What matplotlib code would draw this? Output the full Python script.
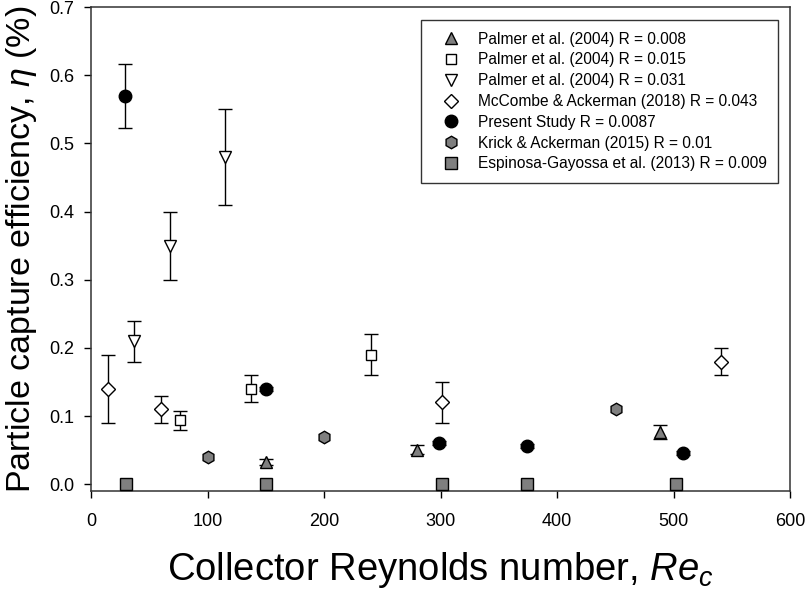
import matplotlib
matplotlib.use("Agg")
import matplotlib.pyplot as plt
from matplotlib.lines import Line2D

plt.rcParams['font.family'] = ['Liberation Sans', 'DejaVu Sans']
plt.rcParams['mathtext.fontset'] = 'custom'
plt.rcParams['mathtext.it'] = 'Liberation Sans:italic'
plt.rcParams['mathtext.rm'] = 'Liberation Sans'

# Palmer et al. (2004) R = 0.008
p008_x = [150, 280, 488]
p008_y = [0.033, 0.051, 0.077]
p008_e = [0.004, 0.007, 0.010]
# Palmer et al. (2004) R = 0.015
p015_x = [76, 137, 240]
p015_y = [0.094, 0.14, 0.19]
p015_e = [0.014, 0.02, 0.03]
# Palmer et al. (2004) R = 0.031
p031_x = [37, 68, 115]
p031_y = [0.21, 0.35, 0.48]
p031_e = [0.03, 0.05, 0.07]
# McCombe & Ackerman (2018) R = 0.043
mc_x = [15, 60, 301, 541]
mc_y = [0.14, 0.11, 0.12, 0.18]
mc_e = [0.05, 0.02, 0.03, 0.02]
# Present Study R = 0.0087
ps_x = [29, 150, 299, 374, 508]
ps_y = [0.57, 0.14, 0.06, 0.056, 0.046]
ps_e = [0.047, 0.003, 0.003, 0.003, 0.003]
# Krick & Ackerman (2015) R = 0.01
ka_x = [100, 200, 451]
ka_y = [0.04, 0.07, 0.11]
# Espinosa-Gayossa et al. (2013) R = 0.009
eg_x = [30, 150, 301, 374, 502]
eg_y = [0.0, 0.0, 0.0, 0.0, 0.0]

labels = ["Palmer et al. (2004) R = 0.008",
          "Palmer et al. (2004) R = 0.015",
          "Palmer et al. (2004) R = 0.031",
          "McCombe & Ackerman (2018) R = 0.043",
          "Present Study R = 0.0087",
          "Krick & Ackerman (2015) R = 0.01",
          "Espinosa-Gayossa et al. (2013) R = 0.009"]
xticks = [0, 100, 200, 300, 400, 500, 600]
yticks = [0.0, 0.1, 0.2, 0.3, 0.4, 0.5, 0.6, 0.7]

gray = '#7f7f7f'
fig = plt.figure(figsize=(8.09, 5.90), dpi=100)
ax = fig.add_axes([91 / 809, 1 - 491 / 590, 699 / 809, 484 / 590])

ekw = dict(ecolor='black', elinewidth=1.0, capsize=5, capthick=1.0, linestyle='none',
           markeredgecolor='black', markeredgewidth=1.0, zorder=3)

ax.errorbar(p008_x, p008_y, yerr=p008_e, marker='^', ms=9, markerfacecolor=gray, **ekw)
ax.errorbar(p015_x, p015_y, yerr=p015_e, marker='s', ms=7.5, markerfacecolor='white', **ekw)
ax.errorbar(p031_x, p031_y, yerr=p031_e, marker='v', ms=9, markerfacecolor='white', **ekw)
ax.errorbar(mc_x, mc_y, yerr=mc_e, marker='D', ms=7, markerfacecolor='white', **ekw)
ax.errorbar(ps_x, ps_y, yerr=ps_e, marker='o', ms=9, markerfacecolor='black', **ekw)
ax.plot(ka_x, ka_y, linestyle='none', marker='h', ms=9, markerfacecolor=gray,
        markeredgecolor='black', markeredgewidth=1.0, zorder=3)
ax.plot(eg_x, eg_y, linestyle='none', marker='s', ms=8, markerfacecolor=gray,
        markeredgecolor='black', markeredgewidth=1.0, zorder=3)

ax.set_xlim(0, 600)
ax.set_ylim(-0.0098, 0.7)
ax.set_xticks(xticks)
ax.set_xticklabels([str(t) for t in xticks])
ax.set_yticks(yticks)
ax.set_yticklabels([f"{t:.1f}" for t in yticks])
ax.tick_params(direction='out', length=5, width=1.0, labelsize=13, top=False, right=False)
ax.tick_params(axis='x', pad=11)
ax.tick_params(axis='y', pad=7)
for s in ax.spines.values():
    s.set_linewidth(1.1)
    s.set_color('#333333')

ax.set_xlabel(r"Collector Reynolds number, $Re_c$", fontsize=27.5, labelpad=14)
ax.set_ylabel(r"Particle capture efficiency, $\eta$ (%)", fontsize=24.5)
ax.yaxis.set_label_coords(-0.075, 0.5)

handles = [
    Line2D([], [], ls='none', marker='^', ms=9, mfc=gray, mec='black'),
    Line2D([], [], ls='none', marker='s', ms=7.5, mfc='white', mec='black'),
    Line2D([], [], ls='none', marker='v', ms=9, mfc='white', mec='black'),
    Line2D([], [], ls='none', marker='D', ms=7, mfc='white', mec='black'),
    Line2D([], [], ls='none', marker='o', ms=9, mfc='black', mec='black'),
    Line2D([], [], ls='none', marker='h', ms=9, mfc=gray, mec='black'),
    Line2D([], [], ls='none', marker='s', ms=8, mfc=gray, mec='black'),
]
leg = ax.legend(handles, labels, loc='upper right', bbox_to_anchor=(0.983, 0.973),
                borderaxespad=0, fontsize=11.2, frameon=True, fancybox=False,
                edgecolor='black', labelspacing=0.37, handletextpad=0.57,
                borderpad=0.75, handlelength=2.32)
leg.get_frame().set_linewidth(1.0)

fig.savefig("out.png", dpi=100)
